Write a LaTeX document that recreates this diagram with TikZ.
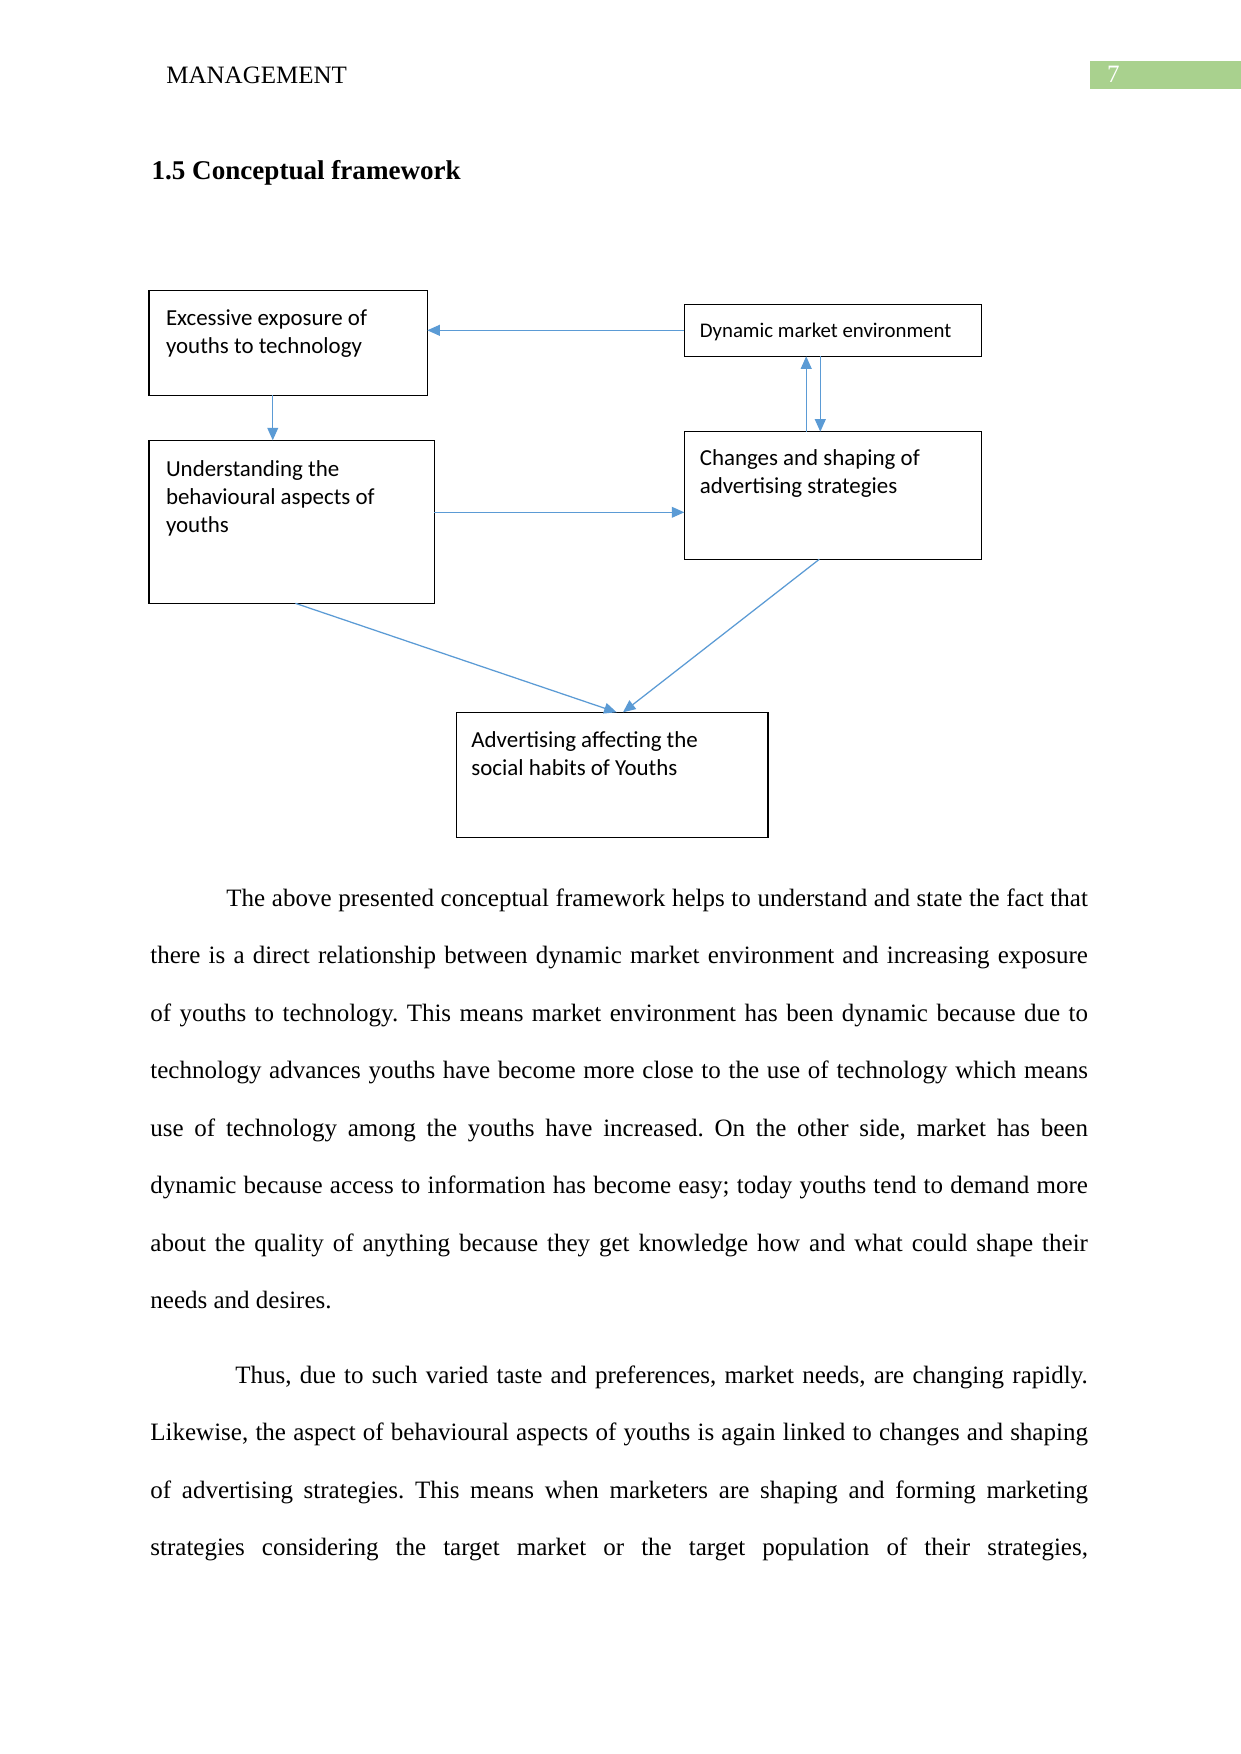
\documentclass[tikz,border=0pt]{standalone}
\usepackage{fontspec}
\setmainfont{Liberation Serif}
\newfontfamily\carlito{Carlito}
\usetikzlibrary{arrows.meta,calc}
\newlength\pxu
\setlength\pxu{0.48pt}
\definecolor{arrblue}{HTML}{5B9BD5}
\definecolor{hdrgreen}{HTML}{A9D18E}
\frenchspacing
\begin{document}
\begin{tikzpicture}[x=0.48pt,y=-0.48pt,
  box/.style={draw,line width=0.7pt,inner sep=0pt,outer sep=0pt,anchor=north west},
  boxtext/.style={anchor=base west,inner sep=0pt,align=left,font=\carlito\fontsize{11}{13.3}\selectfont},
  arr/.style={draw=arrblue,line width=0.6pt,-{Triangle[length=6pt,width=5.2pt]}},
  body/.style={anchor=base west,inner sep=0pt,font=\fontsize{12}{14}\selectfont}]
\useasboundingbox[fill=white] (0,0) rectangle (1241,1754);
% header
\node[body] (hdr) at (166,83.3) {MANAGEMENT};
\node[fill=hdrgreen,inner sep=0pt,outer sep=0pt,anchor=north west,minimum width=151\pxu,minimum height=28.3\pxu] (pg) at (1090,60.7) {};
\node[body,text=white] (pgnum) at (1106.7,82.3) {7};
\node[body,font=\fontsize{13}{15}\selectfont\bfseries] (title) at (151.2,179) {1.5 Conceptual framework};
% boxes
\node[box,minimum width=278.1\pxu,minimum height=105\pxu] (exc) at (149.2,290.3) {};
\node[box,minimum width=297\pxu,minimum height=52\pxu] (dyn) at (684.3,304.3) {};
\node[box,minimum width=285.2\pxu,minimum height=163\pxu] (und) at (149.2,440.3) {};
\node[box,minimum width=297\pxu,minimum height=127.6\pxu] (chg) at (684.3,431.7) {};
\node[box,minimum width=311.7\pxu,minimum height=125\pxu] (adv) at (456.3,712.3) {};
% box texts (base anchor = last line baseline)
\node[boxtext] (texc) at (165.6,353.3) {Excessive exposure of\\youths to technology};
\node[boxtext,font=\carlito\fontsize{10}{12}\selectfont] (tdyn) at (699.4,337.7) {Dynamic market environment};
\node[boxtext] (tund) at (165.6,532.1) {Understanding the\\behavioural aspects of\\youths};
\node[boxtext] (tchg) at (699.4,493.3) {Changes and shaping of\\advertising strategies};
\node[boxtext] (tadv) at (471,775) {Advertising affecting the\\social habits of Youths};
% connectors
\draw[arr] (dyn.west) -- (dyn.west -| exc.east);
\coordinate (a1) at ($(exc.south)+(-15.5,0)$);
\draw[arr] (a1) -- (a1 |- und.north);
\coordinate (u1) at ($(chg.north)+(-26.6,0)$);
\draw[arr] (u1) -- (u1 |- dyn.south);
\coordinate (d1) at ($(dyn.south)+(-12.5,0)$);
\draw[arr] (d1) -- (d1 |- chg.north);
\coordinate (h1) at ($(und.east)+(0,-9.5)$);
\draw[arr] (h1) -- (h1 -| chg.west);
\draw[arr] ($(und.south)+(3.6,0)$) -- ($(adv.north)+(4.5,0)$);
\draw[arr] ($(chg.south)+(-13.5,0)$) -- ($(adv.north)+(10.8,0)$);
% body text
\node[body] (l1) at (226,906) {\makebox[413.5pt][s]{The above presented conceptual framework helps to understand and state the fact that}};
\node[body] (l2) at (150,963.5) {\makebox[450pt][s]{there is a direct relationship between dynamic market environment and increasing exposure}};
\node[body] (l3) at (150,1021) {\makebox[450pt][s]{of youths to technology. This means market environment has been dynamic because due to}};
\node[body] (l4) at (150,1078.5) {\makebox[450pt][s]{technology advances youths have become more close to the use of technology which means}};
\node[body] (l5) at (150,1136) {\makebox[450pt][s]{use of technology among the youths have increased. On the other side, market has been}};
\node[body] (l6) at (150,1193.5) {\makebox[450pt][s]{dynamic because access to information has become easy; today youths tend to demand more}};
\node[body] (l7) at (150,1251) {\makebox[450pt][s]{about the quality of anything because they get knowledge how and what could shape their}};
\node[body] (l8) at (150,1308.5) {needs and desires.};
\node[body] (l9) at (234.9,1383.3) {\makebox[409.2pt][s]{Thus, due to such varied taste and preferences, market needs, are changing rapidly.}};
\node[body] (l10) at (150,1440.6) {\makebox[450pt][s]{Likewise, the aspect of behavioural aspects of youths is again linked to changes and shaping}};
\node[body] (l11) at (150,1498) {\makebox[450pt][s]{of advertising strategies. This means when marketers are shaping and forming marketing}};
\node[body] (l12) at (150,1555.3) {\makebox[450pt][s]{strategies considering the target market or the target population of their strategies,}};
\end{tikzpicture}
\end{document}
